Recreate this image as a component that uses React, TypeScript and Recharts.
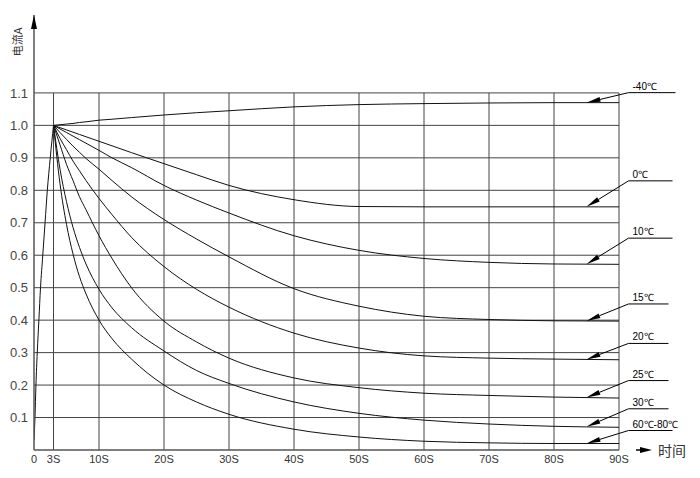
import {
  LineChart,
  Line,
  XAxis,
  YAxis,
  ReferenceLine,
  ReferenceDot,
} from "recharts";

// rise from switch-on to the 1.0 peak at 3 s (shared by every curve)
const riseTimes = [0, 0.15, 0.3, 0.5, 0.75, 1.0, 1.35, 1.7, 2.05, 2.5, 3];
const riseCurrent = [0.03, 0.1, 0.2, 0.3, 0.4, 0.5, 0.6, 0.7, 0.8, 0.9, 1.0];

// decay after the peak, one array per temperature
const decayTimes = [3, 4, 5, 6, 7, 8, 10, 12, 15, 20, 25, 30, 40, 50, 60, 70, 80, 90];
const curveMinus40 = [1.0, 1.002, 1.004, 1.006, 1.009, 1.011, 1.016, 1.019, 1.024, 1.032, 1.039, 1.045, 1.057, 1.064, 1.067, 1.069, 1.07, 1.07];
const curve0 = [1.0, 0.993, 0.986, 0.979, 0.972, 0.965, 0.951, 0.937, 0.916, 0.882, 0.848, 0.815, 0.771, 0.75, 0.749, 0.749, 0.749, 0.749];
const curve10 = [1.0, 0.989, 0.978, 0.967, 0.956, 0.945, 0.923, 0.9, 0.87, 0.815, 0.77, 0.73, 0.66, 0.615, 0.59, 0.578, 0.573, 0.572];
const curve15 = [1.0, 0.978, 0.957, 0.936, 0.917, 0.898, 0.865, 0.83, 0.78, 0.71, 0.65, 0.595, 0.497, 0.443, 0.412, 0.402, 0.398, 0.397];
const curve20 = [1.0, 0.96, 0.925, 0.89, 0.86, 0.83, 0.775, 0.725, 0.655, 0.565, 0.495, 0.44, 0.36, 0.314, 0.29, 0.283, 0.28, 0.278];
const curve25 = [1.0, 0.94, 0.88, 0.83, 0.78, 0.74, 0.66, 0.59, 0.5, 0.397, 0.333, 0.283, 0.222, 0.192, 0.175, 0.168, 0.163, 0.16];
const curve30 = [1.0, 0.865, 0.765, 0.686, 0.624, 0.573, 0.495, 0.438, 0.377, 0.305, 0.245, 0.205, 0.148, 0.113, 0.092, 0.08, 0.073, 0.07];
const curve60to80 = [1.0, 0.82, 0.695, 0.604, 0.534, 0.481, 0.4, 0.343, 0.28, 0.2, 0.148, 0.11, 0.064, 0.04, 0.027, 0.022, 0.02, 0.02];

const curveNames = ["-40℃", "0℃", "10℃", "15℃", "20℃", "25℃", "30℃", "60℃-80℃"];
const curves = [curveMinus40, curve0, curve10, curve15, curve20, curve25, curve30, curve60to80];

const xTicks = [0, 3, 10, 20, 30, 40, 50, 60, 70, 80, 90];
const yTicks = [0.1, 0.2, 0.3, 0.4, 0.5, 0.6, 0.7, 0.8, 0.9, 1.0, 1.1];

// leader label layout (pixels above the arrow tip)
const leaderRise = [-10, -26, -26, -17, -16, -17, -18, -13];
const leaderLen = [47, 44, 44, 40, 40, 40, 40, 44];

const allTimes = Array.from(new Set([...riseTimes, ...decayTimes])).sort((a, b) => a - b);
const rows = allTimes.map((t) => {
  const row: Record<string, number> = { t };
  const ri = riseTimes.indexOf(t);
  if (ri >= 0) row.rise = riseCurrent[ri];
  const di = decayTimes.indexOf(t);
  if (di >= 0) curves.forEach((c, i) => (row["c" + i] = c[di]));
  return row;
});

function Leader({ cx, cy, text, dy, len }: any) {
  const sx = cx + 42;
  const sy = cy + dy;
  const ang = Math.atan2(sy - cy, sx - cx);
  const L = 14;
  const W = 2.5;
  const bx = cx + L * Math.cos(ang);
  const by = cy + L * Math.sin(ang);
  const px = -Math.sin(ang) * W;
  const py = Math.cos(ang) * W;
  return (
    <g>
      <polygon points={`${cx},${cy} ${bx + px},${by + py} ${bx - px},${by - py}`} fill="#000" />
      <line x1={bx} y1={by} x2={sx} y2={sy} stroke="#000" strokeWidth={1} />
      <line x1={sx} y1={sy} x2={sx + len} y2={sy} stroke="#000" strokeWidth={1} />
      <text x={sx + 4} y={sy - 3} fontSize={10} fill="#000" fontFamily="Liberation Sans, Arial, sans-serif">
        {text}
      </text>
    </g>
  );
}

export default function App() {
  const font = "Liberation Sans, Arial, sans-serif";
  return (
    <LineChart width={684} height={462} data={rows} margin={{ top: 7, right: 73, left: 0, bottom: 0 }}>
      <XAxis
        dataKey="t"
        type="number"
        domain={[0, 90]}
        ticks={xTicks}
        interval={0}
        allowDataOverflow
        height={20}
        tickLine={false}
        tickSize={3}
        axisLine={{ stroke: "#555", strokeWidth: 1.5 }}
        tick={{ fontSize: 11, fill: "#333", fontFamily: font }}
        tickFormatter={(v) => (v === 0 ? "0" : `${v}S`)}
      />
      <YAxis
        type="number"
        domain={[0, 1.34]}
        ticks={yTicks}
        interval={0}
        allowDataOverflow
        width={26}
        tickLine={false}
        tickSize={4}
        tickMargin={2}
        axisLine={{ stroke: "#555", strokeWidth: 1.5 }}
        tick={{ fontSize: 13, fill: "#444", fontFamily: font }}
        tickFormatter={(v) => v.toFixed(1)}
      />
      {yTicks.map((v) => (
        <ReferenceLine
          key={"h" + v}
          segment={[
            { x: 0, y: v },
            { x: 90, y: v },
          ]}
          stroke="#444"
          strokeWidth={1}
          ifOverflow="visible"
        />
      ))}
      {xTicks.slice(1).map((t) => (
        <ReferenceLine
          key={"v" + t}
          segment={[
            { x: t, y: 0 },
            { x: t, y: 1.1 },
          ]}
          stroke="#444"
          strokeWidth={1}
          ifOverflow="visible"
        />
      ))}
      <Line
        dataKey="rise"
        type="monotone"
        stroke="#111"
        strokeWidth={1}
        dot={false}
        connectNulls
        isAnimationActive={false}
      />
      {curves.map((_, i) => (
        <Line
          key={i}
          dataKey={"c" + i}
          type="monotone"
          stroke="#111"
          strokeWidth={1}
          dot={false}
          connectNulls
          isAnimationActive={false}
        />
      ))}
      {curves.map((c, i) => (
        <ReferenceDot
          key={"l" + i}
          x={85}
          y={(c[c.length - 2] + c[c.length - 1]) / 2}
          r={1}
          ifOverflow="visible"
          shape={(p: any) => (
            <Leader cx={p.cx} cy={p.cy} text={curveNames[i]} dy={leaderRise[i]} len={leaderLen[i]} />
          )}
        />
      ))}
      <ReferenceDot
        x={0}
        y={1.34}
        r={1}
        ifOverflow="visible"
        shape={(p: any) => (
          <g>
            <polygon points={`${p.cx},${p.cy} ${p.cx - 3},${p.cy + 14} ${p.cx + 3},${p.cy + 14}`} fill="#000" />
            <text
              x={p.cx - 12}
              y={p.cy + 27}
              fontSize={11}
              fill="#333"
              textAnchor="middle"
              transform={`rotate(-90 ${p.cx - 12} ${p.cy + 27})`}
              fontFamily="Noto Sans CJK SC, sans-serif"
            >
              电流A
            </text>
          </g>
        )}
      />
      <ReferenceDot
        x={90}
        y={0}
        r={1}
        ifOverflow="visible"
        shape={(p: any) => (
          <g>
            <line x1={p.cx + 17} y1={p.cy} x2={p.cx + 24} y2={p.cy} stroke="#000" strokeWidth={1.5} />
            <polygon
              points={`${p.cx + 33},${p.cy} ${p.cx + 21},${p.cy - 3} ${p.cx + 21},${p.cy + 3}`}
              fill="#000"
            />
            <text x={p.cx + 39} y={p.cy + 6} fontSize={14} fill="#333" fontFamily="Noto Sans CJK SC, sans-serif">
              时间
            </text>
          </g>
        )}
      />
    </LineChart>
  );
}
